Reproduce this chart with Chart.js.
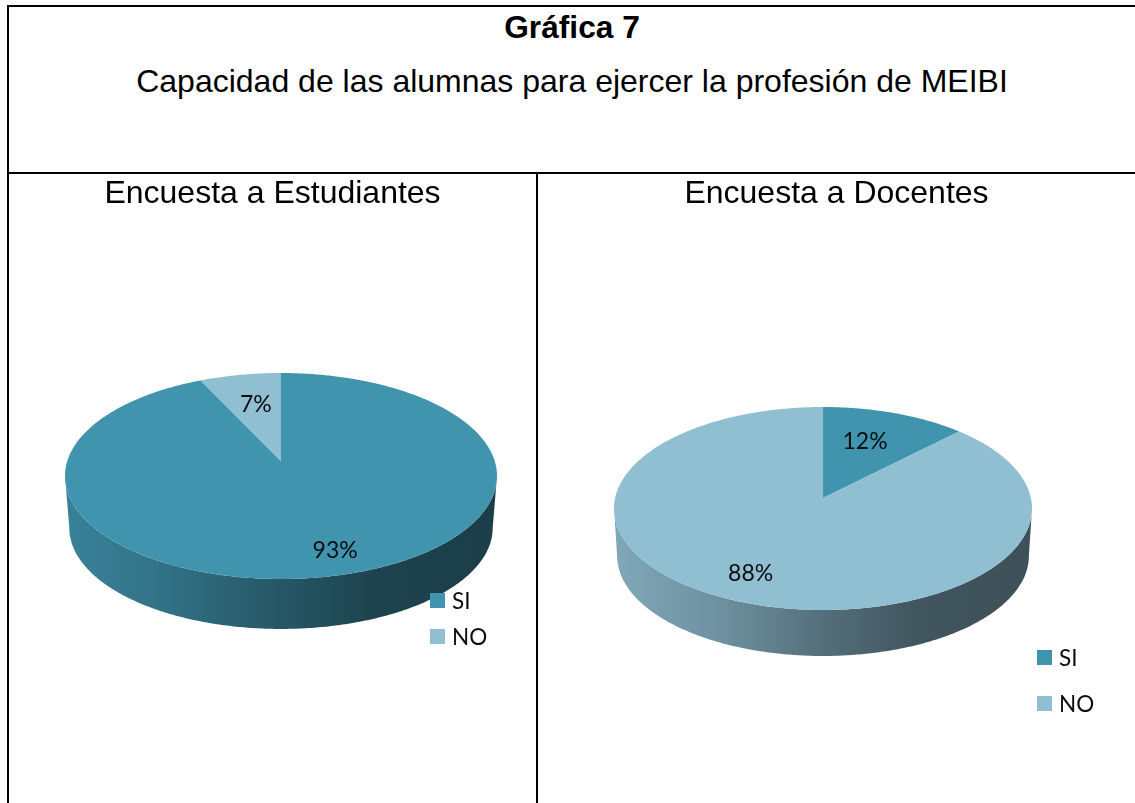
<!DOCTYPE html>
<html lang="es"><head><meta charset="utf-8">
<script src="https://cdn.jsdelivr.net/npm/chart.js@4/dist/chart.umd.min.js"></script>
<style>
html,body{margin:0;padding:0;background:#fff;overflow:hidden}
body{width:1135px;height:803px;position:relative;font-family:"Liberation Sans",Arial,sans-serif;color:#000}
.line{position:absolute;background:#000}
.head{position:absolute;left:8px;width:1128px;text-align:center;white-space:nowrap;line-height:34px}
canvas{position:absolute;display:block}
</style></head>
<body>
<div class="line" style="left:7px;top:5px;width:1128px;height:2px"></div>
<div class="line" style="left:7px;top:5px;width:2px;height:798px"></div>
<div class="line" style="left:7px;top:172px;width:1128px;height:2px"></div>
<div class="line" style="left:536px;top:172px;width:2px;height:631px"></div>
<div class="head" style="top:10px;font-size:31.7px;font-weight:bold">Gráfica 7</div>
<div class="head" style="top:64px;font-size:32px">Capacidad de las alumnas para ejercer la profesión de MEIBI</div>
<canvas id="c1" width="527" height="629" style="left:9px;top:174px"></canvas>
<canvas id="c2" width="597" height="629" style="left:538px;top:174px"></canvas>
<script>
const categories = ["SI", "NO"];
const estudiantes = [93, 7];
const docentes = [12.4, 87.6];
const titleEstudiantes = "Encuesta a Estudiantes";
const titleDocentes = "Encuesta a Docentes";
const sliceColors = ["#4194AE", "#91BFD2"];

// shade factors across the pie's side wall, left to right
const wallStops = [[0, .88], [.25, .76], [.5, .58], [.72, .45], [1, .42]];

function shade(hex, f) {
  const n = parseInt(hex.slice(1), 16);
  return `rgb(${Math.round((n>>16&255)*f)},${Math.round((n>>8&255)*f)},${Math.round((n&255)*f)})`;
}

// Projects the library's circular arc geometry onto a tilted, perspective disc.
const pie3d = {
  id: "pie3d",
  beforeDatasetsDraw(chart, args, o) {
    const ctx = chart.ctx, arcs = chart.getDatasetMeta(0).data;
    const a = o.apexShift / o.ry, d = o.rx * Math.sqrt(1 - a * a);
    const project = (t, f) => {
      const u = Math.cos(t) * f, v = Math.sin(t) * f, w = 1 + a * v;
      return [o.cx + d * u / w, o.cy + (o.ry * v + o.apexShift) / w];
    };
    chart.$project = project;
    const edge = (ctx, t0, t1) => {
      const pts = [], n = Math.max(2, Math.ceil((t1 - t0) / .01));
      for (let i = 0; i <= n; i++) pts.push(project(t0 + (t1 - t0) * i / n, 1));
      return pts;
    };
    // side wall: only the part of each slice on the front of the disc
    const front0 = Math.asin(-a), front1 = Math.PI - front0;
    arcs.forEach((arc, i) => {
      const p = arc.getProps(["startAngle", "endAngle"], true);
      for (const k of [0, 2 * Math.PI, -2 * Math.PI]) {
        const t0 = Math.max(p.startAngle + k, front0), t1 = Math.min(p.endAngle + k, front1);
        if (t1 <= t0) continue;
        const top = edge(ctx, t0, t1);
        ctx.beginPath();
        top.forEach((q, j) => j ? ctx.lineTo(q[0], q[1]) : ctx.moveTo(q[0], q[1]));
        top.slice().reverse().forEach(q =>
          ctx.lineTo(o.cx + (q[0] - o.cx) * o.wallScale, o.cy + o.wallDrop + (q[1] - o.cy) * o.wallScale));
        ctx.closePath();
        const g = ctx.createLinearGradient(o.cx - o.rx, 0, o.cx + o.rx, 0);
        wallStops.forEach(s => g.addColorStop(s[0], shade(sliceColors[i], s[1])));
        ctx.fillStyle = g;
        ctx.fill();
      }
    });
    // top face
    arcs.forEach((arc, i) => {
      const p = arc.getProps(["startAngle", "endAngle"], true);
      const rim = edge(ctx, p.startAngle, p.endAngle);
      ctx.beginPath();
      ctx.moveTo(o.cx, o.cy + o.apexShift);
      rim.forEach(q => ctx.lineTo(q[0], q[1]));
      ctx.closePath();
      ctx.fillStyle = sliceColors[i];
      ctx.fill();
    });
    return false;
  },
  afterDraw(chart, args, o) {
    const ctx = chart.ctx, arcs = chart.getDatasetMeta(0).data;
    const values = chart.data.datasets[0].data;
    ctx.save();
    ctx.fillStyle = "#0d0d0d";
    ctx.font = "23px Lato, 'Noto Sans', sans-serif";
    ctx.textAlign = "center";
    ctx.textBaseline = "middle";
    arcs.forEach((arc, i) => {
      const p = arc.getProps(["startAngle", "endAngle"], true);
      const t = (p.startAngle + p.endAngle) / 2 + o.labelShift[i] * Math.PI / 180;
      const q = chart.$project(t, o.labelRadius[i]);
      ctx.fillText(Math.round(values[i]) + "%", q[0], q[1] + 1);
    });
    ctx.textAlign = "left";
    ctx.font = "22.5px Lato, 'Noto Sans', sans-serif";
    chart.data.labels.forEach((lab, i) => {
      const y = o.legendY[i];
      ctx.fillStyle = sliceColors[i];
      ctx.fillRect(o.legendX, y, 15, 15);
      ctx.fillStyle = "#0d0d0d";
      ctx.fillText(lab, o.legendX + 22, y + 9);
    });
    ctx.restore();
  }
};

function makeChart(id, title, values, geom) {
  return new Chart(document.getElementById(id), {
    type: "pie",
    data: { labels: categories, datasets: [{ data: values, backgroundColor: sliceColors, borderWidth: 0 }] },
    plugins: [pie3d],
    options: {
      responsive: false,
      animation: false,
      events: [],
      plugins: {
        legend: { display: false },
        tooltip: { enabled: false },
        title: {
          display: true, text: title, color: "#000",
          font: { family: "'Liberation Sans', Arial, sans-serif", size: 32, weight: "normal" },
          padding: { top: 1, bottom: 10 }
        },
        pie3d: geom
      }
    }
  });
}

makeChart("c1", titleEstudiantes, estudiantes, {
  cx: 272, cy: 302, rx: 216, ry: 103, apexShift: -15, wallScale: .98, wallDrop: 52,
  labelRadius: [.81, .64], labelShift: [-3.5, 1], legendX: 421, legendY: [419, 455]
});
makeChart("c2", titleDocentes, docentes, {
  cx: 285, cy: 334.5, rx: 209, ry: 101.5, apexShift: -10.5, wallScale: .985, wallDrop: 47.5,
  labelRadius: [.65, .764], labelShift: [-3, 2.7], legendX: 499, legendY: [476, 522]
});
</script>
</body></html>
